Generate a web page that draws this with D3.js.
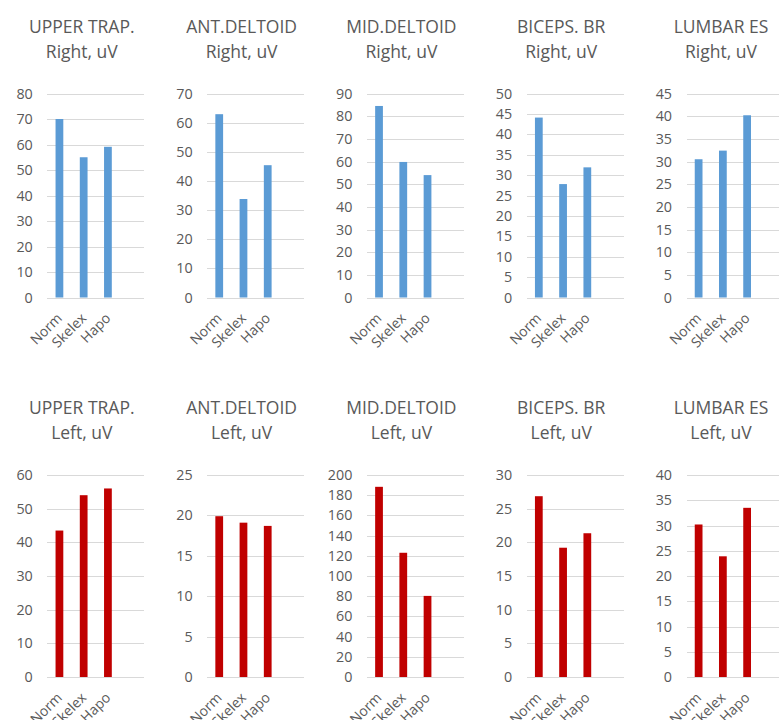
<!DOCTYPE html>
<html>
<head>
<meta charset="utf-8">
<script src="https://cdn.jsdelivr.net/npm/d3@7"></script>
<style>
  html, body { margin: 0; padding: 0; background: #ffffff; }
  svg { display: block; }
  text { font-family: "Open Sans", "Liberation Sans", sans-serif; }
</style>
</head>
<body>
<svg id="chart" width="779" height="720"></svg>
<script>
// ---- data ----
const muscles = ["UPPER TRAP.", "ANT.DELTOID", "MID.DELTOID", "BICEPS. BR", "LUMBAR ES"];
const sides = ["Right, uV", "Left, uV"];
const categories = ["Norm", "Skelex", "Hapo"];

const rightValues = [
  [70, 55, 59.1],
  [62.9, 33.8, 45.4],
  [84.5, 59.8, 54],
  [44.1, 27.8, 31.9],
  [30.5, 32.4, 40.2]
];
const leftValues = [
  [43.5, 54, 56],
  [19.9, 19.1, 18.7],
  [188.3, 123, 80.3],
  [26.85, 19.2, 21.35],
  [30.2, 23.9, 33.5]
];
const rightAxisMax = [80, 70, 90, 50, 45];
const rightAxisStep = [10, 10, 10, 5, 5];
const leftAxisMax = [60, 25, 200, 30, 40];
const leftAxisStep = [10, 5, 20, 5, 5];

const rowValues = [rightValues, leftValues];
const rowMax = [rightAxisMax, leftAxisMax];
const rowStep = [rightAxisStep, leftAxisStep];
const rowColors = ["#5B9BD5", "#C00000"];

// ---- layout ----
const svg = d3.select("#chart");
const colStart = 47.3, colSpacing = 159.8, plotW = 97;
const rowTop = [93.5, 475];
const rowBottom = [297.5, 677];
const titleY = [[33, 58], [414, 439]];
const titleOffset = 34.5;
const textColor = "#595959";
const gridColor = "#d9d9d9";

rowValues.forEach((vals, r) => {
  vals.forEach((v, c) => {
    const x0 = colStart + colSpacing * c;
    const g = svg.append("g").attr("transform", `translate(${x0},0)`);

    const x = d3.scaleBand()
      .domain([...categories, " "])
      .range([0, plotW])
      .paddingInner(0.68)
      .paddingOuter(0.34);

    const y = d3.scaleLinear()
      .domain([0, rowMax[r][c]])
      .range([rowBottom[r], rowTop[r]]);

    const ticks = d3.range(0, rowMax[r][c] + 1e-9, rowStep[r][c]);

    // y axis with gridlines
    const yAxis = d3.axisLeft(y)
      .tickValues(ticks)
      .tickSize(-plotW)
      .tickPadding(14.5)
      .tickFormat(d3.format("d"));
    const ya = g.append("g").call(yAxis);
    ya.select(".domain").remove();
    ya.selectAll(".tick line")
      .attr("stroke", gridColor)
      .attr("stroke-width", 1)
      .attr("shape-rendering", "crispEdges");
    ya.selectAll(".tick text")
      .attr("fill", textColor)
      .style("font-size", "14.3px");

    // bars
    g.selectAll("rect.bar")
      .data(v)
      .enter().append("rect")
      .attr("class", "bar")
      .attr("x", (d, i) => x(categories[i]))
      .attr("width", x.bandwidth())
      .attr("y", d => y(d))
      .attr("height", d => y(0) - y(d))
      .attr("fill", rowColors[r]);

    // x axis labels (rotated)
    const xAxis = d3.axisBottom(x)
      .tickValues(categories)
      .tickSize(0)
      .tickPadding(0);
    const xa = g.append("g")
      .attr("transform", `translate(0,${rowBottom[r]})`)
      .call(xAxis);
    xa.select(".domain").remove();
    xa.selectAll(".tick text")
      .attr("fill", textColor)
      .style("font-size", "14px")
      .attr("text-anchor", "end")
      .attr("x", 0)
      .attr("y", 0)
      .attr("dy", "0.35em")
      .attr("transform", "translate(0,18) rotate(-45)");

    // titles
    const tg = svg.append("g");
    tg.append("text")
      .attr("x", x0 + titleOffset)
      .attr("y", titleY[r][0])
      .attr("text-anchor", "middle")
      .attr("fill", textColor)
      .style("font-size", "17.5px")
      .text(muscles[c]);
    tg.append("text")
      .attr("x", x0 + titleOffset)
      .attr("y", titleY[r][1])
      .attr("text-anchor", "middle")
      .attr("fill", textColor)
      .style("font-size", "17.5px")
      .text(sides[r]);
  });
});
</script>
</body>
</html>
